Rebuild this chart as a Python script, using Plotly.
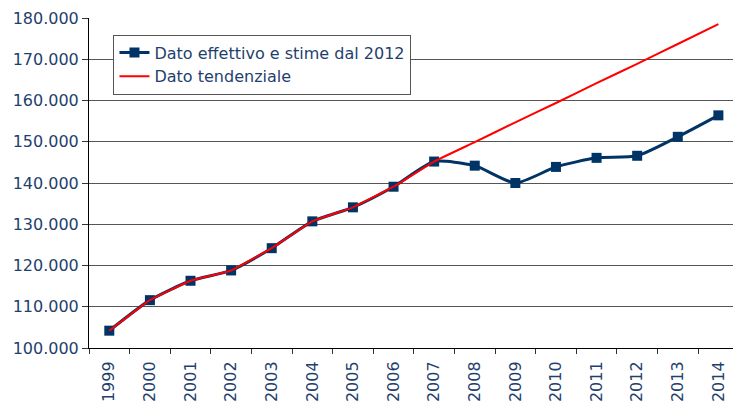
import plotly.graph_objects as go

years = [str(y) for y in range(1999, 2015)]
effettivo = [104200, 111600, 116300, 118800, 124200, 130700, 134100, 139100,
             145200, 144200, 140000, 143900, 146100, 146600, 151200, 156400]
tendenziale = [104200, 111600, 116300, 118800, 124200, 130700, 134100, 139100,
               145200, 149900, 154700, 159400, 164200, 168900, 173700, 178500]
yticks = list(range(100000, 180001, 10000))

navy = "#003366"
txt = "#1F3F6E"
font = "DejaVu Sans"

fig = go.Figure()
fig.add_trace(go.Scatter(
    x=years, y=effettivo, name="Dato effettivo e stime dal 2012",
    mode="lines+markers", line=dict(color=navy, width=3, shape="spline", smoothing=0.6),
    marker=dict(symbol="square", size=10, color=navy)))
fig.add_trace(go.Scatter(
    x=years, y=tendenziale, name="Dato tendenziale",
    mode="lines", line=dict(color="#FF0000", width=2, shape="spline", smoothing=0.3)))

fig.update_layout(
    width=733, height=403,
    margin=dict(l=89, r=0, t=18, b=55),
    paper_bgcolor="white", plot_bgcolor="white",
    separators=",.",
    font=dict(family=font, size=16, color=txt),
    showlegend=True,
    legend=dict(x=0.038, y=0.95, xanchor="left", yanchor="top",
                bgcolor="white", bordercolor="#555555", borderwidth=1,
                font=dict(family=font, size=16, color=txt),
                itemwidth=30, tracegroupgap=0),
)
fig.update_xaxes(
    type="category", range=[-0.5, 15.36], automargin=False,
    tickangle=-90, tickson="boundaries", ticks="outside", ticklen=5,
    tickcolor="#333333", showline=True, linecolor="black", linewidth=1,
    showgrid=False, tickfont=dict(family=font, size=16, color=txt),
    ticklabelstandoff=6,
)
fig.update_yaxes(
    range=[100000, 180000], tickvals=yticks, tickformat=",d", automargin=False,
    ticksuffix=" ",
    ticks="outside", ticklen=6, tickcolor="#333333",
    showline=True, linecolor="black", linewidth=1,
    showgrid=True, gridcolor="#555555", gridwidth=1,
    tickfont=dict(family=font, size=16, color=txt),
)

fig.write_html("out.html", config={"displayModeBar": False},
               post_script="document.body.style.margin='0';document.body.style.overflow='hidden';")
